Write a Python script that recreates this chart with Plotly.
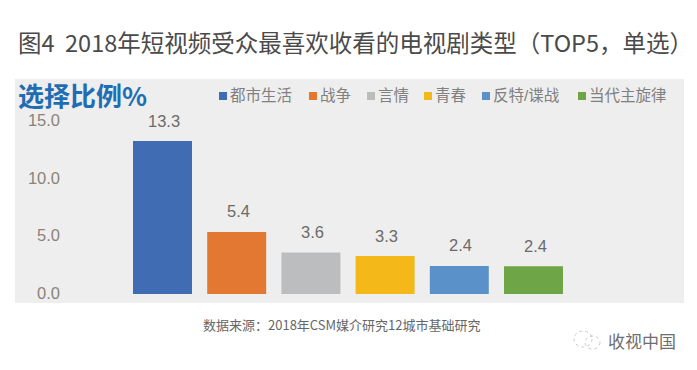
import plotly.graph_objects as go

categories = ["都市生活", "战争", "言情", "青春", "反特/谍战", "当代主旋律"]
values = [13.3, 5.4, 3.6, 3.3, 2.44, 2.41]
colors = ["#3f6cb2", "#e27832", "#bcbdbf", "#f4b919", "#5a91c8", "#6ea546"]
tick_values = [0, 5, 10, 15]
tick_labels = ["0.0", "5.0", "10.0", "15.0"]

W, H = 697, 370
ML, MR, MT, MB = 62, 13, 79, 67
PW, PH = W - ML - MR, H - MT - MB
FONT = "Liberation Sans, Noto Sans CJK SC, sans-serif"
CJK = "Noto Sans CJK SC, sans-serif"

def px(x):
    return (x - ML) / PW

def py(y):
    return 1 - (y - MT) / PH

fig = go.Figure()
for name, value, color in zip(categories, values, colors):
    fig.add_trace(go.Bar(x=[name], y=[value], name=name, width=0.795,
                         marker=dict(color=color, line=dict(width=0)),
                         showlegend=False, hoverinfo="x+y"))

annotations = []
for name, value in zip(categories, values):
    annotations.append(dict(x=name, y=value, xref="x", yref="y", text=f"{value:.1f}",
                            showarrow=False, yanchor="bottom", xshift=1.5, yshift=9.5,
                            font=dict(family=FONT, size=16.5, color="#6b6b6b")))

shapes = [dict(type="rect", layer="below", xref="paper", yref="paper",
               x0=px(15), x1=px(684), y0=py(303), y1=py(79),
               fillcolor="#eeeeee", line=dict(width=0))]

# hand-placed legend, to keep the small swatch right next to its label
legend_swatch_left = [219, 309, 367, 424, 482, 578]
for name, color, sx in zip(categories, colors, legend_swatch_left):
    shapes.append(dict(type="rect", xref="paper", yref="paper",
                       x0=px(sx), x1=px(sx + 8), y0=py(100), y1=py(92),
                       fillcolor=color, line=dict(width=0)))
    annotations.append(dict(x=px(sx + 8.5), y=py(96), xref="paper", yref="paper", text=name,
                            showarrow=False, xanchor="left", yanchor="middle",
                            font=dict(family=FONT, size=15.5, color="#808080")))

def text(x, y, s, size, color, anchor="left", family=CJK):
    annotations.append(dict(x=px(x), y=py(y), xref="paper", yref="paper", text=s,
                            showarrow=False, xanchor=anchor, yanchor="middle",
                            font=dict(family=family, size=size, color=color)))

text(16, 42, "图4  2018年短视频受众最喜欢收看的电视剧类型（TOP5，单选）", 23.5, "#4a4a4a")
text(15.5, 94.5, "<b>选择比例%</b>", 26, "#1f6db3")
text(201, 324, "数据来源：2018年CSM媒介研究12城市基础研究", 13, "#666666")
text(606, 340, "收视中国", 17, "#6e6e6e")

# WeChat-style mark beside the watermark
for (x0, x1, y0, y1) in [(574, 592, 331, 347), (585, 600, 336, 349)]:
    shapes.append(dict(type="circle", xref="paper", yref="paper",
                       x0=px(x0), x1=px(x1), y0=py(y1), y1=py(y0),
                       line=dict(color="#bdbdbd", width=0.8, dash="dot")))

fig.update_layout(
    width=W, height=H, margin=dict(l=ML, r=MR, t=MT, b=MB, pad=0),
    paper_bgcolor="#ffffff", plot_bgcolor="#eeeeee",
    barmode="overlay", showlegend=False,
    annotations=annotations, shapes=shapes,
    xaxis=dict(type="category", categoryorder="array", categoryarray=categories,
               range=[(ML - 162.5) / 74.2, (W - MR - 162.5) / 74.2],
               showticklabels=False, showgrid=False, zeroline=False, ticks="", fixedrange=True),
    yaxis=dict(range=[-9 / 11.5, 215 / 11.5], tickmode="array", tickvals=tick_values, ticktext=tick_labels,
               showgrid=False, zeroline=False, showline=False, ticks="",
               ticklabelshift=-1, ticklabelstandoff=1,
               tickfont=dict(family=FONT, size=16.5, color="#8c8378"), fixedrange=True),
)

fig.write_html("out.html", config={"displayModeBar": False},
               post_script="document.body.style.margin='0';document.body.style.overflow='hidden';")
